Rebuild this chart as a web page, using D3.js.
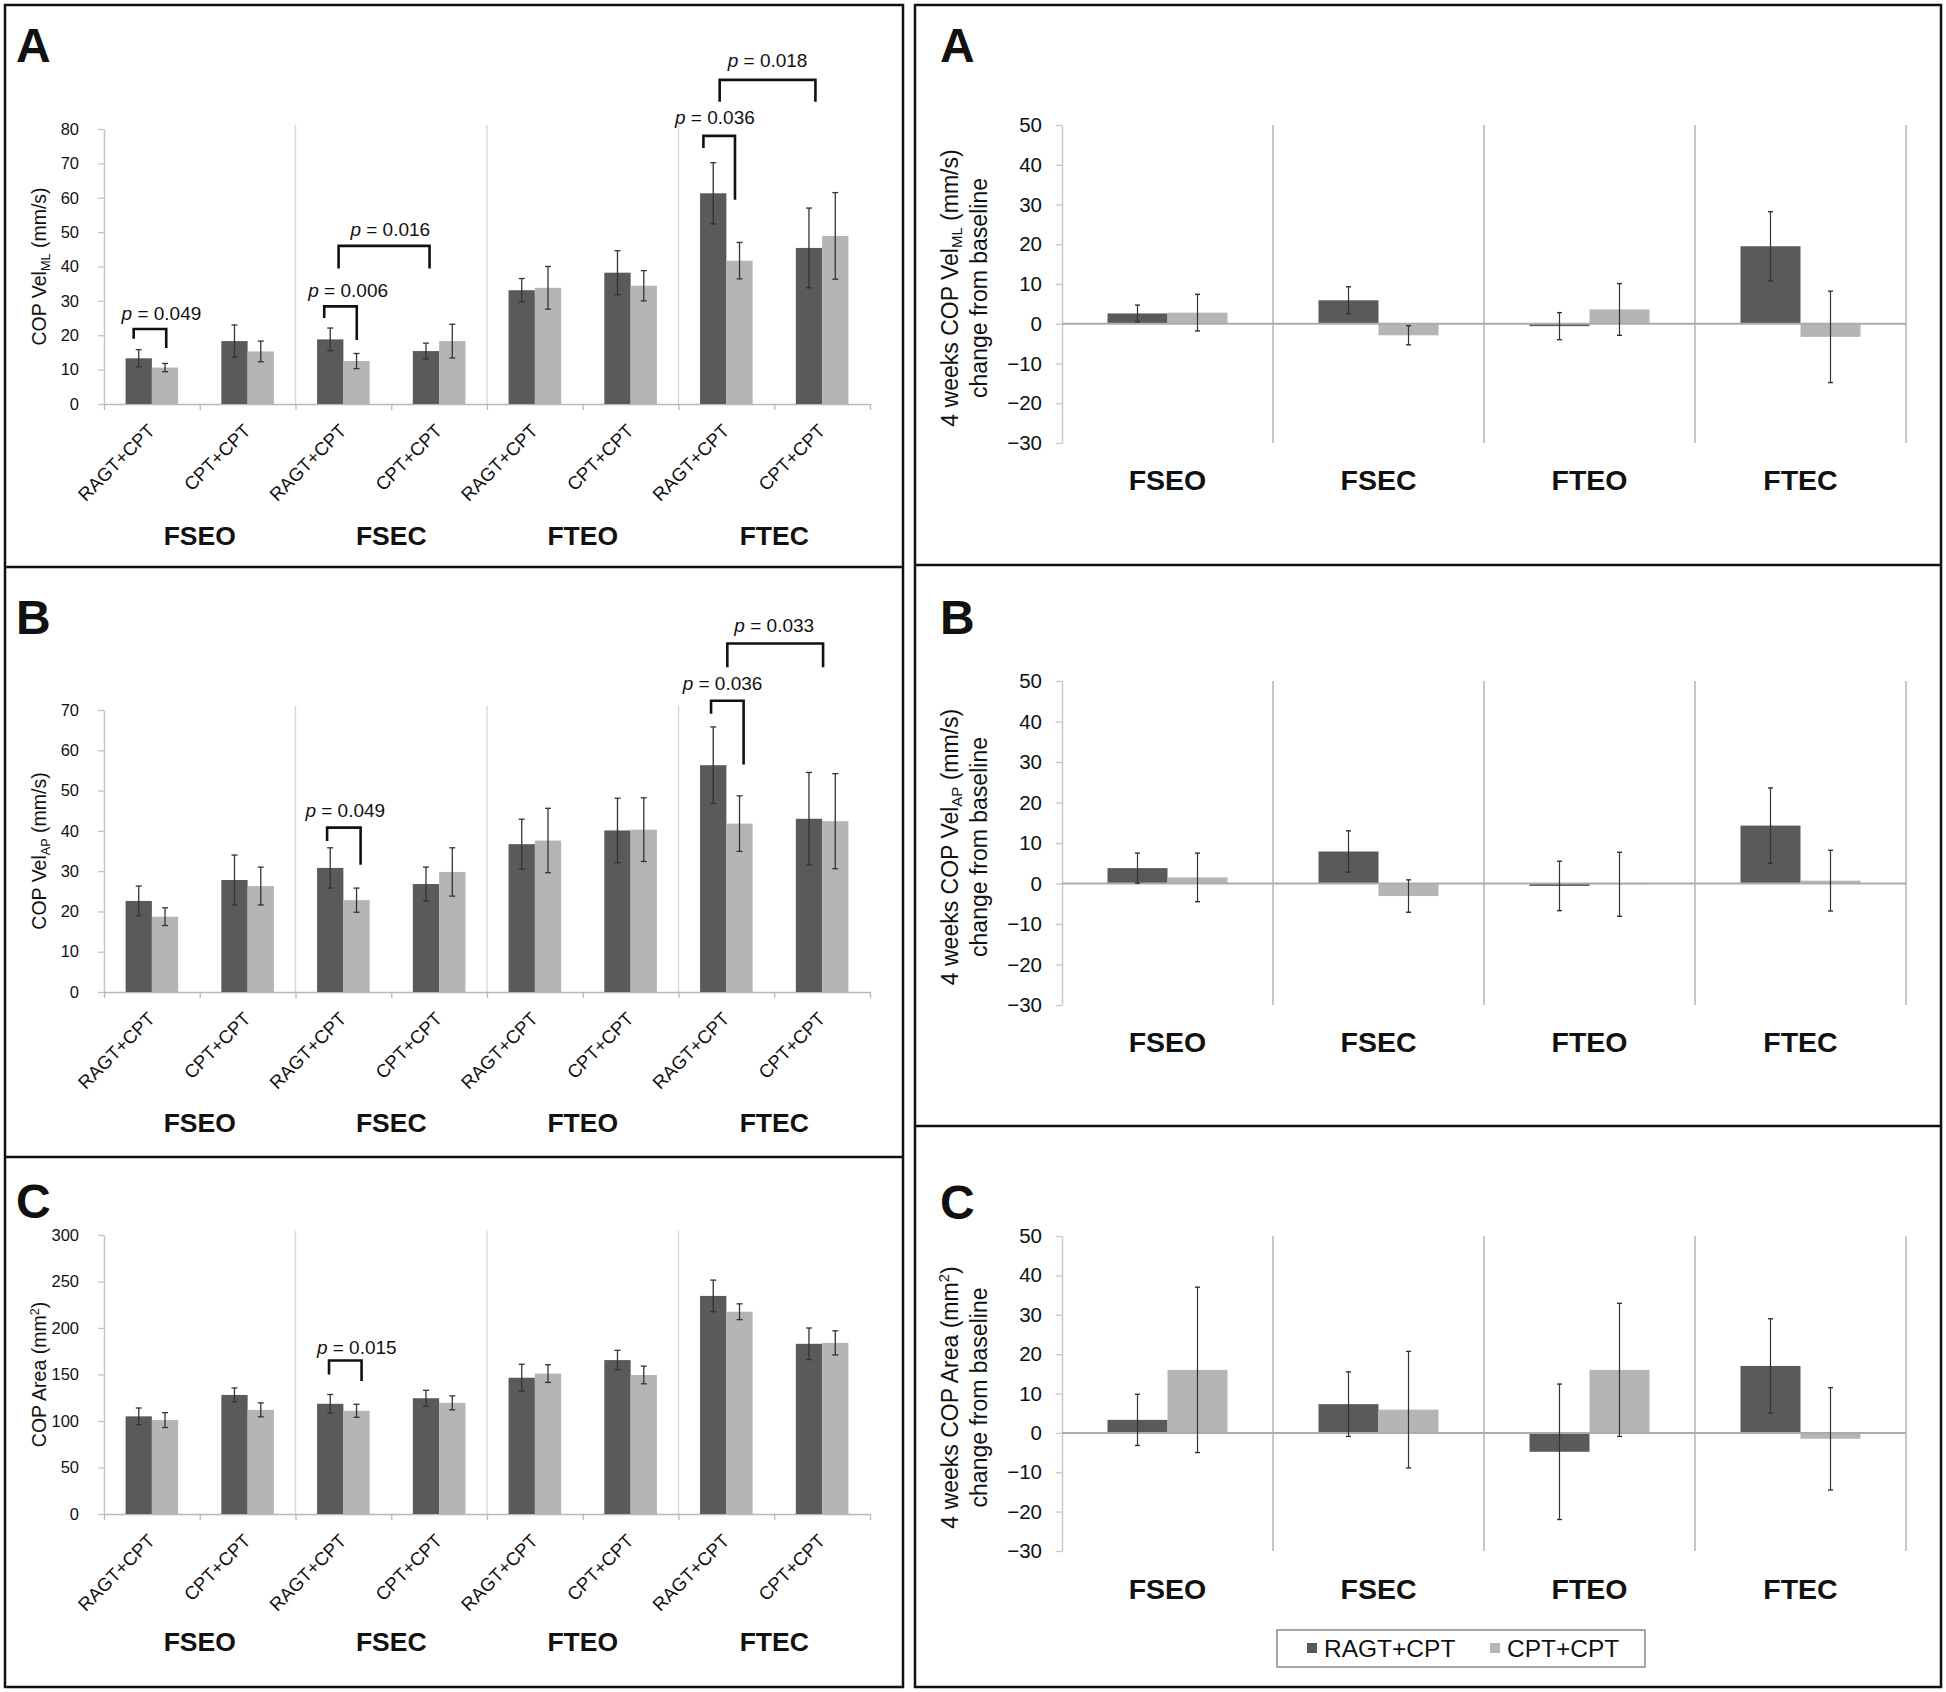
<!DOCTYPE html>
<html><head><meta charset="utf-8">
<script src="https://cdn.jsdelivr.net/npm/d3@7"></script>
<style>
body{margin:0;background:#fff}
svg{display:block}
text{font-family:"Liberation Sans",Arial,Helvetica,sans-serif;fill:#111}
</style>
</head><body>
<svg id="fig" width="1946" height="1692"></svg>
<script>
// ---------------- DATA ----------------
const groups = ["FSEO", "FSEC", "FTEO", "FTEC"];
const barLabels = ["RAGT+CPT", "CPT+CPT", "RAGT+CPT", "CPT+CPT", "RAGT+CPT", "CPT+CPT", "RAGT+CPT", "CPT+CPT"];
const seriesNames = ["RAGT+CPT", "CPT+CPT"];

// Left A: COP Vel ML (mm/s)
const velML_dark = [13.3, 18.3, 18.8, 15.4, 33.1, 38.2, 61.3, 45.4];
const velML_darkErr = [2.5, 4.7, 3.3, 2.3, 3.4, 6.4, 8.9, 11.6];
const velML_light = [10.6, 15.3, 12.5, 18.3, 33.8, 34.4, 41.7, 48.9];
const velML_lightErr = [1.2, 3.0, 2.2, 4.9, 6.2, 4.4, 5.3, 12.6];
const velMLTicks = [0, 10, 20, 30, 40, 50, 60, 70, 80];

// Left B: COP Vel AP (mm/s)
const velAP_dark = [22.6, 27.8, 30.8, 26.8, 36.7, 40.1, 56.3, 43.0];
const velAP_darkErr = [3.7, 6.2, 5.0, 4.2, 6.2, 8.0, 9.5, 11.5];
const velAP_light = [18.7, 26.3, 22.8, 29.8, 37.6, 40.3, 41.8, 42.4];
const velAP_lightErr = [2.2, 4.7, 3.0, 6.0, 8.0, 7.9, 6.9, 11.8];
const velAPTicks = [0, 10, 20, 30, 40, 50, 60, 70];

// Left C: COP Area (mm2)
const area_dark = [105, 128, 118.5, 124.5, 146.5, 165.5, 234.5, 183];
const area_darkErr = [9, 7.5, 10, 8.5, 14.5, 10.5, 17, 17];
const area_light = [101, 112, 111, 119.5, 151, 149.5, 217.5, 184];
const area_lightErr = [8, 7.5, 7, 7.5, 9.5, 9.5, 8.5, 13];
const areaTicks = [0, 50, 100, 150, 200, 250, 300];

// Right: 4 weeks change from baseline, per group
const chgML_ragt = [2.6, 5.9, -0.6, 19.5];
const chgML_ragtErr = [2.1, 3.4, 3.4, 8.7];
const chgML_cpt = [2.8, -2.9, 3.6, -3.3];
const chgML_cptErr = [4.6, 2.4, 6.5, 11.5];

const chgAP_ragt = [3.8, 7.9, -0.6, 14.3];
const chgAP_ragtErr = [3.7, 5.1, 6.1, 9.3];
const chgAP_cpt = [1.5, -3.1, -0.2, 0.7];
const chgAP_cptErr = [6.0, 4.0, 7.9, 7.5];

const chgArea_ragt = [3.3, 7.3, -4.8, 17.0];
const chgArea_ragtErr = [6.5, 8.2, 17.2, 12.0];
const chgArea_cpt = [16.0, 5.9, 16.0, -1.5];
const chgArea_cptErr = [21.0, 14.8, 16.9, 13.0];
const chgTicks = [-30, -20, -10, 0, 10, 20, 30, 40, 50];

// significance brackets: legs in category units (0..8), heights in data units
const sigVelML = [
  {p: "0.049", x1: 0.31, x2: 0.65, top: 21.8, e1: 19.0, e2: 16.3, lx: 0.60, ly: 24.5},
  {p: "0.006", x1: 2.30, x2: 2.64, top: 28.4, e1: 25.0, e2: 18.6, lx: 2.55, ly: 31.0},
  {p: "0.016", x1: 2.45, x2: 3.40, top: 46.0, e1: 39.4, e2: 39.4, lx: 2.99, ly: 49.0},
  {p: "0.036", x1: 6.26, x2: 6.59, top: 78.0, e1: 74.5, e2: 59.4, lx: 6.38, ly: 81.4},
  {p: "0.018", x1: 6.43, x2: 7.43, top: 94.3, e1: 87.9, e2: 87.9, lx: 6.93, ly: 98.1}
];
const sigVelAP = [
  {p: "0.049", x1: 2.33, x2: 2.68, top: 40.8, e1: 37.5, e2: 31.6, lx: 2.52, ly: 43.4},
  {p: "0.036", x1: 6.34, x2: 6.68, top: 72.3, e1: 69.1, e2: 56.5, lx: 6.46, ly: 75.0},
  {p: "0.033", x1: 6.51, x2: 7.51, top: 86.5, e1: 80.6, e2: 80.6, lx: 7.00, ly: 89.4}
];
const sigArea = [
  {p: "0.015", x1: 2.35, x2: 2.69, top: 165, e1: 150, e2: 143, lx: 2.64, ly: 172.5}
];

// ---------------- DRAWING ----------------
const svg = d3.select("#fig");
const DARK = "#5a5a5a", LIGHT = "#b5b5b5", ERR = "#333";

// frames
function frame(x0, x1, ys) {
  svg.append("rect").attr("x", x0).attr("y", ys[0]).attr("width", x1 - x0).attr("height", ys[ys.length - 1] - ys[0])
    .attr("fill", "none").attr("stroke", "#111").attr("stroke-width", 2.5);
  ys.slice(1, -1).forEach(v => svg.append("line").attr("x1", x0).attr("x2", x1).attr("y1", v).attr("y2", v)
    .attr("stroke", "#111").attr("stroke-width", 2.5));
}
frame(5, 903, [5, 567, 1157, 1687]);
frame(915, 1941, [5, 565, 1126, 1687]);

function letter(x, y, t) {
  svg.append("text").attr("x", x).attr("y", y).attr("font-size", 48).attr("font-weight", "bold").text(t);
}

function titleText(sel, parts, size) {
  parts.forEach(p => {
    const ts = sel.append("tspan").text(p.t);
    if (p.sub) ts.attr("font-size", size * 0.65).attr("dy", size * 0.18);
    if (p.sup) ts.attr("font-size", size * 0.65).attr("dy", -size * 0.38);
    if (p.after === "sub") ts.attr("dy", -size * 0.18);
    if (p.after === "sup") ts.attr("dy", size * 0.38);
  });
}

function leftPanel(o) {
  const g = svg.append("g");
  const x = d3.scaleLinear().domain([0, 8]).range([104, 870]);
  const y = d3.scaleLinear().domain([0, o.max]).range([o.y0, o.y1]);
  const bw = 26.3;

  // group separators
  g.selectAll(".sep").data([2, 4, 6]).join("line")
    .attr("x1", d => x(d)).attr("x2", d => x(d)).attr("y1", y(o.max) - 4).attr("y2", y(0))
    .attr("stroke", "#d6d6d6").attr("stroke-width", 1.3);

  // y axis
  const ya = g.append("g").attr("transform", `translate(${x(0)},0)`)
    .call(d3.axisLeft(y).tickValues(o.ticks).tickSize(6).tickSizeOuter(0).tickPadding(19));
  ya.select(".domain").attr("stroke", "#c4c4c4").attr("stroke-width", 1.5);
  ya.selectAll(".tick line").attr("stroke", "#c4c4c4").attr("stroke-width", 1.3);
  ya.selectAll(".tick text").attr("font-size", 16.5).attr("fill", "#222").attr("font-family", '"Liberation Sans",Arial,sans-serif');

  // x axis
  const xa = g.append("g").attr("transform", `translate(0,${y(0)})`)
    .call(d3.axisBottom(x).tickValues(d3.range(9)).tickSize(6).tickSizeOuter(0).tickFormat(""));
  xa.select(".domain").attr("stroke", "#b8b8b8").attr("stroke-width", 1.6);
  xa.selectAll(".tick line").attr("stroke", "#b8b8b8").attr("stroke-width", 1.3);

  const rows = barLabels.map((lab, i) => ({i, lab, d: o.dark[i], de: o.darkErr[i], l: o.light[i], le: o.lightErr[i]}));
  // bars
  g.selectAll(".bd").data(rows).join("rect")
    .attr("x", r => x(r.i + 0.5) - bw).attr("width", bw)
    .attr("y", r => y(r.d)).attr("height", r => y(0) - y(r.d)).attr("fill", DARK);
  g.selectAll(".bl").data(rows).join("rect")
    .attr("x", r => x(r.i + 0.5)).attr("width", bw)
    .attr("y", r => y(r.l)).attr("height", r => y(0) - y(r.l)).attr("fill", LIGHT);
  // error bars
  const eb = [];
  rows.forEach(r => {
    eb.push({cx: x(r.i + 0.5) - bw / 2, v: r.d, e: r.de});
    eb.push({cx: x(r.i + 0.5) + bw / 2, v: r.l, e: r.le});
  });
  const ebg = g.selectAll(".eb").data(eb).join("g");
  ebg.append("line").attr("x1", d => d.cx).attr("x2", d => d.cx).attr("y1", d => y(d.v - d.e)).attr("y2", d => y(d.v + d.e))
    .attr("stroke", ERR).attr("stroke-width", 1.3);
  [1, -1].forEach(s => ebg.append("line").attr("x1", d => d.cx - 3).attr("x2", d => d.cx + 3)
    .attr("y1", d => y(d.v + s * d.e)).attr("y2", d => y(d.v + s * d.e)).attr("stroke", ERR).attr("stroke-width", 1.3));

  // rotated category labels
  g.selectAll(".xl").data(rows).join("text")
    .attr("transform", r => `translate(${x(r.i + 0.5) + 4},${y(0) + 28}) rotate(-45)`)
    .attr("text-anchor", "end").attr("font-size", 18.5).attr("fill", "#222").text(r => r.lab);

  // group labels
  g.selectAll(".gl").data(groups).join("text")
    .attr("x", (d, k) => x(2 * k + 1)).attr("y", o.gy).attr("text-anchor", "middle")
    .attr("font-size", 26.5).attr("font-weight", "bold").text(d => d);

  // y title
  const t = g.append("text").attr("transform", `translate(46,${(o.y0 + o.y1) / 2}) rotate(-90)`)
    .attr("text-anchor", "middle").attr("font-size", 19.5).attr("fill", "#222");
  titleText(t, o.title, 19.5);

  // significance brackets
  const sg = g.selectAll(".sig").data(o.sig).join("g");
  sg.append("path").attr("d", s => `M${x(s.x1)},${y(s.e1)}V${y(s.top)}H${x(s.x2)}V${y(s.e2)}`)
    .attr("fill", "none").attr("stroke", "#111").attr("stroke-width", 2.6);
  const st = sg.append("text").attr("x", s => x(s.lx)).attr("y", s => y(s.ly)).attr("text-anchor", "middle")
    .attr("font-size", 19).attr("fill", "#222");
  st.append("tspan").attr("font-style", "italic").text("p");
  st.append("tspan").text(s => " = " + s.p);
}

function rightPanel(o) {
  const g = svg.append("g");
  const x = d3.scaleBand().domain(groups).range([1062, 1906]);
  const y = d3.scaleLinear().domain([-30, 50]).range([o.yb, o.yt]);
  const bw = 60;

  g.selectAll(".sep").data(groups).join("line")
    .attr("x1", d => x(d) + x.bandwidth()).attr("x2", d => x(d) + x.bandwidth())
    .attr("y1", y(50)).attr("y2", y(-30)).attr("stroke", "#a9a9a9").attr("stroke-width", 1.3);

  const ya = g.append("g").attr("transform", `translate(${x.range()[0]},0)`)
    .call(d3.axisLeft(y).tickValues(chgTicks).tickSize(6).tickSizeOuter(0).tickPadding(14));
  ya.select(".domain").attr("stroke", "#c8c8c8").attr("stroke-width", 1.5);
  ya.selectAll(".tick line").attr("stroke", "#c8c8c8").attr("stroke-width", 1.3);
  ya.selectAll(".tick text").attr("font-size", 20.5).attr("fill", "#222").attr("font-family", '"Liberation Sans",Arial,sans-serif');

  const rows = groups.map((gname, i) => ({gname, r: o.ragt[i], re: o.ragtErr[i], c: o.cpt[i], ce: o.cptErr[i]}));
  const cx = d => x(d.gname) + x.bandwidth() / 2;
  g.selectAll(".br").data(rows).join("rect")
    .attr("x", d => cx(d) - bw).attr("width", bw)
    .attr("y", d => y(Math.max(0, d.r))).attr("height", d => Math.abs(y(d.r) - y(0))).attr("fill", DARK);
  g.selectAll(".bc").data(rows).join("rect")
    .attr("x", d => cx(d)).attr("width", bw)
    .attr("y", d => y(Math.max(0, d.c))).attr("height", d => Math.abs(y(d.c) - y(0))).attr("fill", LIGHT);

  // zero line
  g.append("line").attr("x1", x.range()[0]).attr("x2", x.range()[1]).attr("y1", y(0)).attr("y2", y(0))
    .attr("stroke", "#acacac").attr("stroke-width", 2);

  const eb = [];
  rows.forEach(d => {
    eb.push({c: cx(d) - bw / 2, v: d.r, e: d.re});
    eb.push({c: cx(d) + bw / 2, v: d.c, e: d.ce});
  });
  const ebg = g.selectAll(".eb").data(eb).join("g");
  ebg.append("line").attr("x1", d => d.c).attr("x2", d => d.c).attr("y1", d => y(d.v - d.e)).attr("y2", d => y(d.v + d.e))
    .attr("stroke", ERR).attr("stroke-width", 1.2);
  [1, -1].forEach(s => ebg.append("line").attr("x1", d => d.c - 2.5).attr("x2", d => d.c + 2.5)
    .attr("y1", d => y(d.v + s * d.e)).attr("y2", d => y(d.v + s * d.e)).attr("stroke", ERR).attr("stroke-width", 1.4));

  g.selectAll(".gl").data(groups).join("text")
    .attr("x", d => x(d) + x.bandwidth() / 2).attr("y", o.gy).attr("text-anchor", "middle")
    .attr("font-size", 28.5).attr("font-weight", "bold").text(d => d);

  const cyT = (o.yt + o.yb) / 2 + 4;
  const t1 = g.append("text").attr("transform", `translate(958,${cyT}) rotate(-90)`)
    .attr("text-anchor", "middle").attr("font-size", 23).attr("fill", "#222");
  titleText(t1, o.title, 23);
  g.append("text").attr("transform", `translate(987,${cyT}) rotate(-90)`)
    .attr("text-anchor", "middle").attr("font-size", 23).attr("fill", "#222").text("change from baseline");
}

// Left panels
letter(16, 62, "A");
leftPanel({y0: 404, y1: 129, max: 80, ticks: velMLTicks, dark: velML_dark, darkErr: velML_darkErr,
  light: velML_light, lightErr: velML_lightErr, gy: 545, sig: sigVelML,
  title: [{t: "COP Vel"}, {t: "ML", sub: true}, {t: " (mm/s)", after: "sub"}]});
letter(16, 634, "B");
leftPanel({y0: 992, y1: 710, max: 70, ticks: velAPTicks, dark: velAP_dark, darkErr: velAP_darkErr,
  light: velAP_light, lightErr: velAP_lightErr, gy: 1132, sig: sigVelAP,
  title: [{t: "COP Vel"}, {t: "AP", sub: true}, {t: " (mm/s)", after: "sub"}]});
letter(16, 1218, "C");
leftPanel({y0: 1514, y1: 1235, max: 300, ticks: areaTicks, dark: area_dark, darkErr: area_darkErr,
  light: area_light, lightErr: area_lightErr, gy: 1651, sig: sigArea,
  title: [{t: "COP Area (mm"}, {t: "2", sup: true}, {t: ")", after: "sup"}]});

// Right panels
letter(940, 62, "A");
rightPanel({yt: 125, yb: 443, gy: 490, ragt: chgML_ragt, ragtErr: chgML_ragtErr, cpt: chgML_cpt, cptErr: chgML_cptErr,
  title: [{t: "4 weeks COP Vel"}, {t: "ML", sub: true}, {t: " (mm/s)", after: "sub"}]});
letter(940, 634, "B");
rightPanel({yt: 681, yb: 1005, gy: 1052, ragt: chgAP_ragt, ragtErr: chgAP_ragtErr, cpt: chgAP_cpt, cptErr: chgAP_cptErr,
  title: [{t: "4 weeks COP Vel"}, {t: "AP", sub: true}, {t: " (mm/s)", after: "sub"}]});
letter(940, 1219, "C");
rightPanel({yt: 1236, yb: 1551, gy: 1599, ragt: chgArea_ragt, ragtErr: chgArea_ragtErr, cpt: chgArea_cpt, cptErr: chgArea_cptErr,
  title: [{t: "4 weeks COP Area (mm"}, {t: "2", sup: true}, {t: ") ", after: "sup"}]});

// Legend
const lg = svg.append("g");
lg.append("rect").attr("x", 1277).attr("y", 1630).attr("width", 368).attr("height", 37)
  .attr("fill", "#fff").attr("stroke", "#8a8a8a").attr("stroke-width", 1.5);
const legX = [1307, 1490];
const legItems = lg.selectAll(".li").data(seriesNames).join("g")
  .attr("transform", (d, i) => `translate(${legX[i]},1648)`);
legItems.append("rect").attr("x", 0).attr("y", -5).attr("width", 10).attr("height", 10)
  .attr("fill", (d, i) => i === 0 ? DARK : LIGHT);
legItems.append("text").attr("x", 17).attr("y", 9).attr("font-size", 24.5).attr("fill", "#222").text(d => d);
</script>
</body></html>
